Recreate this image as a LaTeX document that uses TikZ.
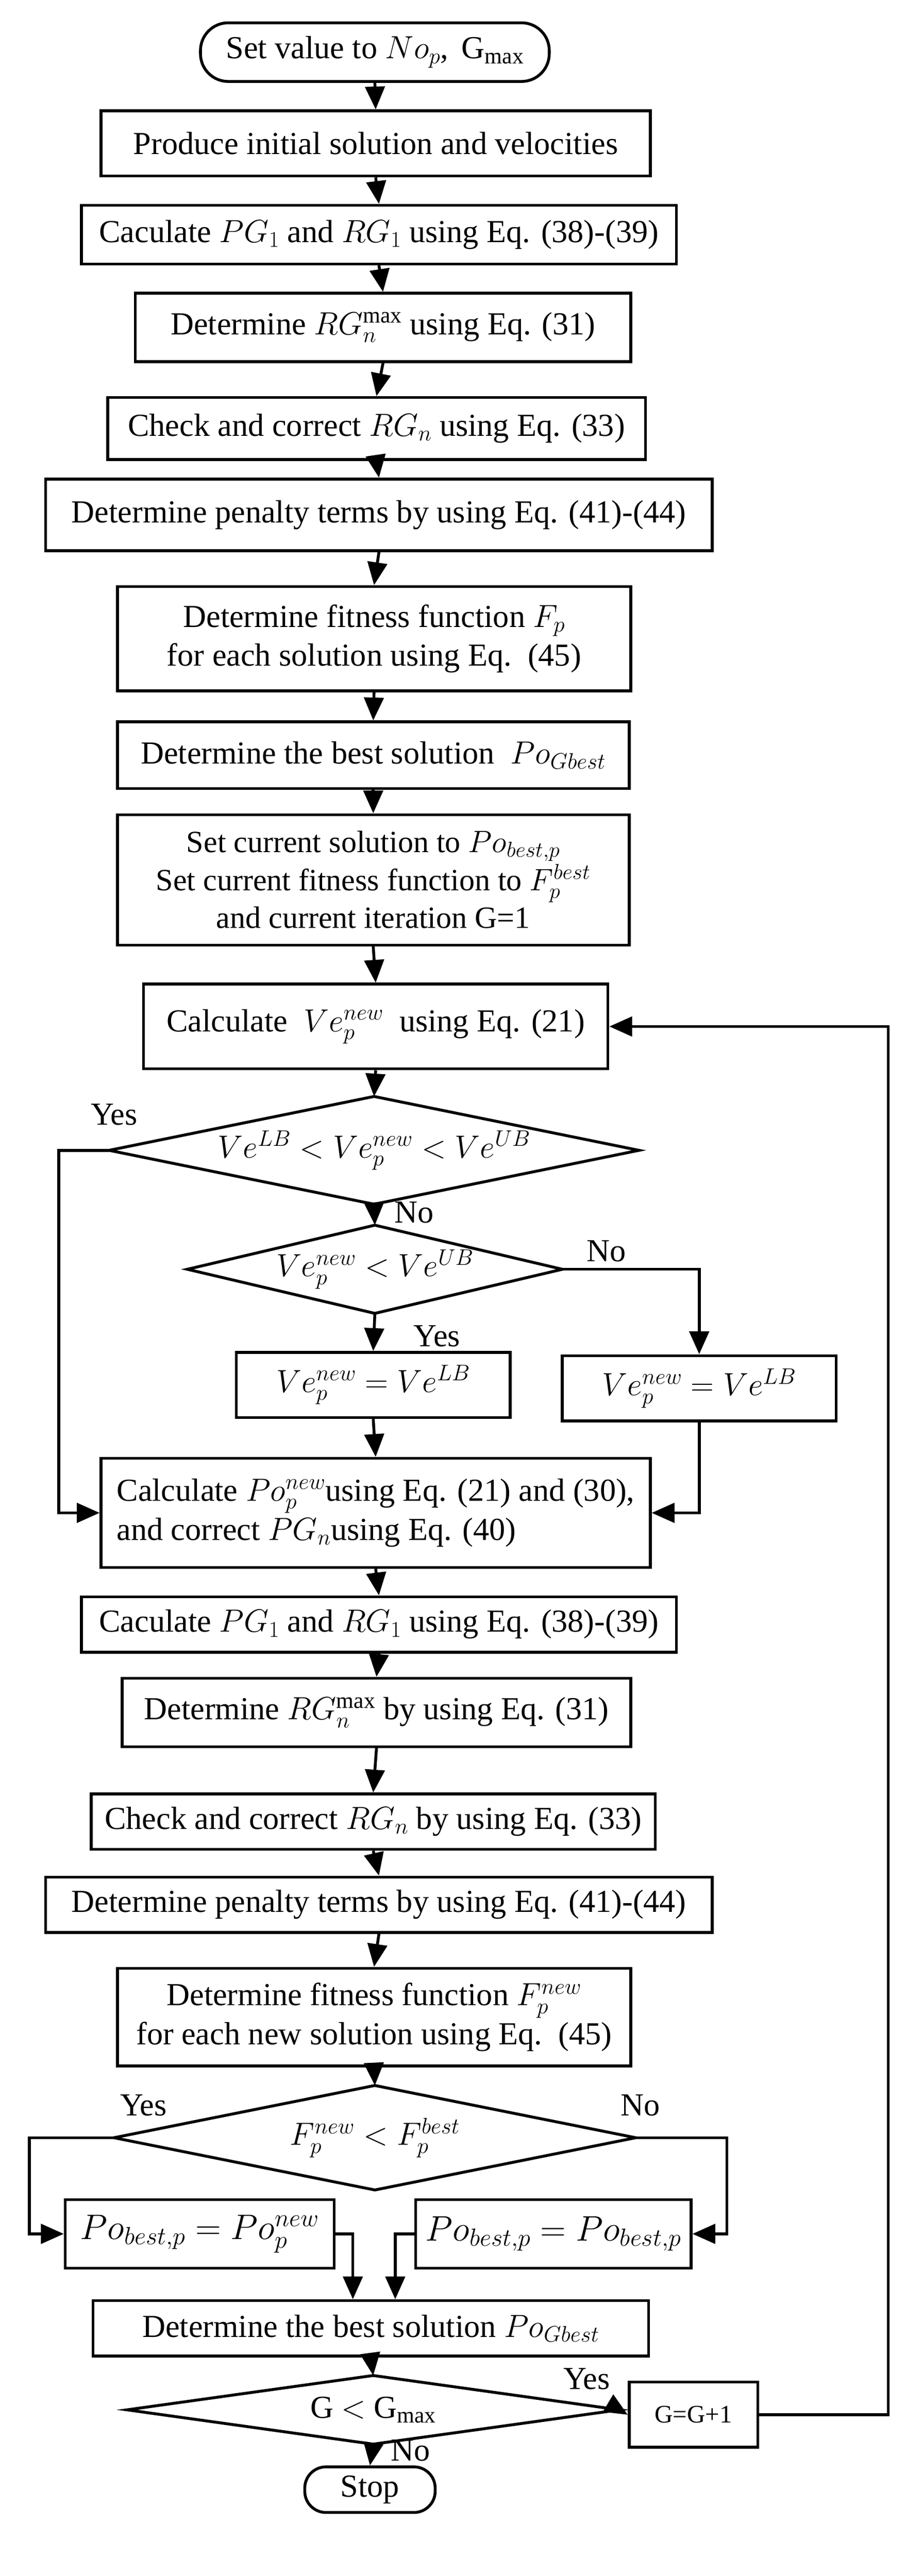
\RequirePackage{fix-cm}
\documentclass[tikz,border=0pt]{standalone}
\usepackage{fontspec}
\setmainfont{Liberation Serif}
\usetikzlibrary{arrows.meta}
\tikzset{
	every node/.style={font=\fontsize{56}{68}\selectfont},
	box/.style={draw, line width=5pt, inner sep=0pt, align=center},
	dia/.style={inner sep=0pt, align=center},
	term/.style={draw, line width=5pt, rounded corners=1.7cm, inner sep=0pt},
	lbl/.style={inner sep=0pt},
	flow/.style={line width=5pt, -{Triangle[length=1.4cm,width=1.2cm]}},
	edge/.style={line width=5pt, line join=miter},
}
\newcommand{\diashape}[1]{\draw[edge] (#1.north) -- (#1.east) -- (#1.south) -- (#1.west) -- cycle;}
\begin{document}
\begin{tikzpicture}[x=0.1cm, y=-0.1cm]
			\useasboundingbox (0,0) rectangle (566,1581);
			\node[term, minimum width=21.4cm, minimum height=3.6cm] (start) at (230,32) {Set value to $No_p$,\, G$_{\mathrm{max}}$};
			\node[box, minimum width=33.7cm, minimum height=4cm] (b1) at (230.5,88) {Produce initial solution and velocities};
			\node[box, minimum width=36.5cm, minimum height=3.6cm] (b2) at (232.5,144) {Caculate $PG_1$ and $RG_1$ using Eq. (38)-(39)};
			\node[box, minimum width=30.4cm, minimum height=4.2cm] (b3) at (235,201) {Determine $RG_n^{\mathrm{max}}$ using Eq. (31)};
			\node[box, minimum width=33cm, minimum height=3.8cm] (b4) at (231,263) {Check and correct $RG_n$ using Eq. (33)};
			\node[box, minimum width=40.9cm, minimum height=4.4cm] (b5) at (232.5,316) {Determine penalty terms by using Eq. (41)-(44)};
			\node[box, minimum width=31.5cm, minimum height=6.4cm] (b6) at (229.5,392) {Determine fitness function $F_p$\\ for each solution using Eq.\ \ (45)};
			\node[box, minimum width=31.4cm, minimum height=4.1cm] (b7) at (229,463.5) {Determine the best solution \ $Po_{Gbest}$};
			\node[box, minimum width=31.4cm, minimum height=8cm, font=\fontsize{54}{66}\selectfont] (b8) at (229,540) {Set current solution to $Po_{best,p}$\\ Set current fitness function to $F_p^{best}$\\ and current iteration G=1};
			\node[box, minimum width=28.5cm, minimum height=5.2cm] (b9) at (230.5,630) {Calculate \ $Ve_p^{new}$ \ using Eq. (21)};
			\node[dia, minimum width=32.5cm, minimum height=6.6cm] (d1) at (229.5,706) {$Ve^{LB} < Ve_p^{new} < Ve^{UB}$};
			\node[dia, minimum width=23cm, minimum height=5.4cm] (d2) at (230,779) {$Ve_p^{new} < Ve^{UB}$};
			\node[box, minimum width=16.8cm, minimum height=4cm] (b10) at (229,850) {$Ve_p^{new} = Ve^{LB}$};
			\node[box, minimum width=16.8cm, minimum height=4cm] (b11) at (429,852) {$Ve_p^{new} = Ve^{LB}$};
			\node[box, minimum width=33.7cm, minimum height=6.7cm, align=left] (b12) at (230.5,928.5) {Calculate $Po_p^{new}$using Eq. (21) and (30),\\ and correct $PG_n$using Eq. (40)};
			\node[box, minimum width=36.5cm, minimum height=3.4cm] (b13) at (232.5,997) {Caculate $PG_1$ and $RG_1$ using Eq. (38)-(39)};
			\node[box, minimum width=31.2cm, minimum height=4.2cm] (b14) at (231,1051) {Determine $RG_n^{\mathrm{max}}$ by using Eq. (31)};
			\node[box, minimum width=34.6cm, minimum height=3.4cm] (b15) at (229,1118) {Check and correct $RG_n$ by using Eq. (33)};
			\node[box, minimum width=40.9cm, minimum height=3.4cm] (b16) at (232.5,1169) {Determine penalty terms by using Eq. (41)-(44)};
			\node[box, minimum width=31.5cm, minimum height=6cm] (b17) at (229.5,1238) {Determine fitness function $F_p^{new}$\\ for each new solution using Eq.\ \ (45)};
			\node[dia, minimum width=32cm, minimum height=6.4cm] (d3) at (230,1312) {$F_p^{new} < F_p^{best}$};
			\node[box, minimum width=16.5cm, minimum height=4.2cm, font=\fontsize{62}{70}\selectfont] (b18) at (122.5,1371) {$Po_{best,p} = Po_p^{new}$};
			\node[box, minimum width=16.9cm, minimum height=4.2cm, font=\fontsize{62}{70}\selectfont] (b19) at (339.5,1371) {$Po_{best,p} = Po_{best,p}$};
			\node[box, minimum width=34.1cm, minimum height=3.4cm] (b20) at (227.5,1429) {Determine the best solution $Po_{Gbest}$};
			\node[dia, minimum width=30.2cm, minimum height=4.2cm] (d4) at (229,1479) {G $<$ G$_{\mathrm{max}}$};
			\node[box, minimum width=7.9cm, minimum height=4cm, font=\fontsize{44}{52}\selectfont] (b21) at (425.5,1482) {G=G+1};
			\node[term, minimum width=8cm, minimum height=2.8cm, rounded corners=1.3cm] (stop) at (227,1528) {Stop};
			% decision outlines
			\diashape{d1}
			\diashape{d2}
			\diashape{d3}
			\diashape{d4}
			% yes / no labels
			\node[lbl] (y1) at (70,684) {Yes};
			\node[lbl] (n1) at (254,744) {No};
			\node[lbl] (n2) at (372,768) {No};
			\node[lbl] (y2) at (268,820) {Yes};
			\node[lbl] (y3) at (88,1292) {Yes};
			\node[lbl] (n3) at (393,1292) {No};
			\node[lbl] (y4) at (360,1460) {Yes};
			\node[lbl] (n4) at (252,1504) {No};
			% corner points
			\coordinate (c1) at (36,706);
			\coordinate (c3) at (18,1312);
			\coordinate (c4) at (446,1312);
			\coordinate (c5) at (216.5,1371);
			\coordinate (c6) at (242.5,1371);
			\coordinate (c7) at (545,1482);
			\foreach \a\b in {start/b1,b1/b2,b2/b3,b3/b4,b4/b5,b5/b6,b6/b7,b7/b8,b8/b9,b9/d1,d1/d2,d2/b10,b10/b12,b12/b13,b13/b14,b14/b15,b15/b16,b16/b17,b17/d3,b20/d4,d4/stop}{
				\draw[flow] (\a.south) -- (\b.north);
			}
			\draw[flow] (d1.west) -- (c1) |- (b12.west);
			\draw[flow] (d2.east) -| (b11.north);
			\draw[flow] (b11.south) |- (b12.east);
			\draw[flow] (d3.west) -- (c3) |- (b18.west);
			\draw[flow] (d3.east) -- (c4) |- (b19.east);
			\draw[flow] (b18.east) -- (c5) -- (c5 |- b20.north);
			\draw[flow] (b19.west) -- (c6) -- (c6 |- b20.north);
			\draw[flow] (d4.east) -- (b21.west);
			\draw[flow] (b21.east) -- (c7) |- (b9.east);
		\end{tikzpicture}
\end{document}
